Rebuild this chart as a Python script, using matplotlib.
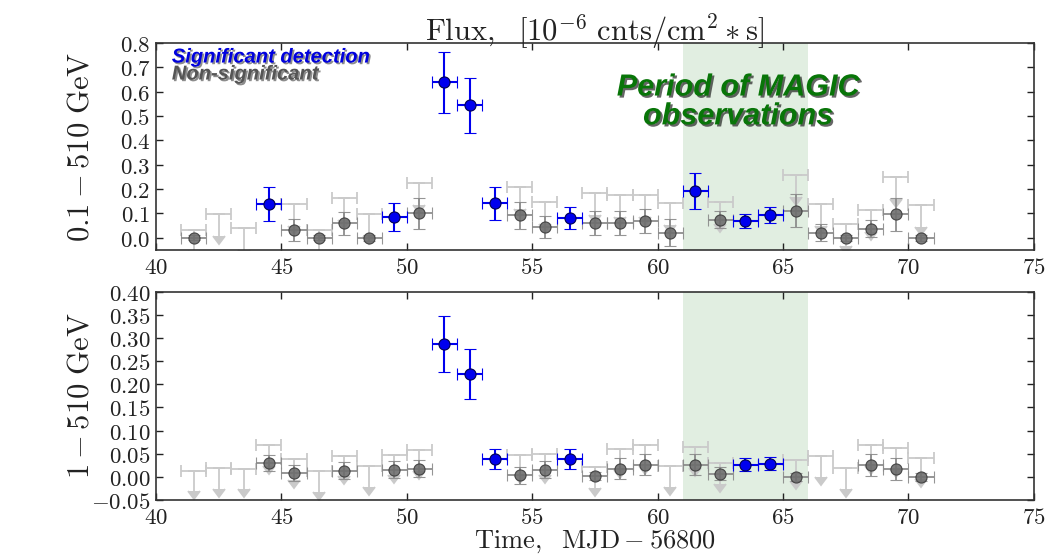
import numpy as np
import matplotlib
matplotlib.use("Agg")
import matplotlib.pyplot as plt
import matplotlib.patheffects as pe
from matplotlib.ticker import FormatStrFormatter, MultipleLocator

plt.rcParams['mathtext.fontset'] = 'cm'

# ---------------- data ----------------
time_bins = np.arange(41.5, 71.0, 1.0)   # MJD - 56800, 1-day bins
half_width = 0.5

# 'b' = significant detection, 'g' = non-significant, 'u' = upper limit only
top_kind = ['g', 'u', 'u', 'b', 'g', 'g', 'g', 'g', 'b', 'g',
            'b', 'b', 'b', 'g', 'g', 'b', 'g', 'g', 'g', 'g',
            'b', 'g', 'b', 'b', 'g', 'g', 'g', 'g', 'g', 'g']
top_flux = [0.000, np.nan, np.nan, 0.138, 0.032, 0.000, 0.059, 0.000, 0.086, 0.100,
            0.639, 0.544, 0.141, 0.092, 0.043, 0.080, 0.062, 0.062, 0.070, 0.021,
            0.193, 0.075, 0.069, 0.093, 0.111, 0.021, 0.000, 0.038, 0.096, 0.000]
top_err = [0.010, np.nan, np.nan, 0.071, 0.045, 0.010, 0.048, 0.012, 0.058, 0.063,
           0.125, 0.114, 0.066, 0.055, 0.045, 0.045, 0.050, 0.050, 0.050, 0.055,
           0.075, 0.035, 0.030, 0.033, 0.067, 0.035, 0.012, 0.035, 0.068, 0.012]
top_ul = [0.034, 0.097, 0.041, np.nan, 0.137, 0.030, 0.162, 0.097, np.nan, 0.226,
          np.nan, np.nan, np.nan, 0.209, 0.145, np.nan, 0.182, 0.175, 0.175, 0.141,
          np.nan, 0.148, np.nan, np.nan, 0.257, 0.137, 0.055, 0.114, 0.250, 0.134]

bot_kind = ['u', 'u', 'u', 'g', 'g', 'u', 'g', 'u', 'g', 'g',
            'b', 'b', 'b', 'g', 'g', 'b', 'g', 'g', 'g', 'u',
            'g', 'g', 'b', 'b', 'g', 'u', 'u', 'g', 'g', 'g']
bot_flux = [np.nan, np.nan, np.nan, 0.030, 0.0086, np.nan, 0.0135, np.nan, 0.0157, 0.0178,
            0.2875, 0.2217, 0.039, 0.003, 0.0157, 0.039, 0.0014, 0.018, 0.0264, np.nan,
            0.026, 0.007, 0.0264, 0.028, 0.000, np.nan, np.nan, 0.025, 0.017, 0.000]
bot_err = [np.nan, np.nan, np.nan, 0.018, 0.018, np.nan, 0.018, np.nan, 0.018, 0.019,
           0.060, 0.054, 0.022, 0.019, 0.019, 0.021, 0.008, 0.022, 0.023, np.nan,
           0.023, 0.014, 0.014, 0.014, 0.008, np.nan, np.nan, 0.024, 0.023, 0.008]
bot_ul = [0.0135, 0.019, 0.018, 0.068, 0.039, 0.012, 0.046, 0.023, 0.048, 0.057,
          np.nan, np.nan, np.nan, 0.048, 0.049, np.nan, 0.0207, 0.060, 0.069, 0.024,
          0.0636, 0.030, np.nan, np.nan, 0.036, 0.044, 0.019, 0.069, 0.062, 0.041]

magic_start, magic_end = 61.0, 66.0

panels = [
    dict(kind=top_kind, flux=top_flux, err=top_err, ul=top_ul,
         ylim=(-0.05, 0.8), ystep=0.1, fmt='$%.1f$', arrow=0.09,
         ylabel=r'$0.1 - 510\ \mathrm{GeV}$'),
    dict(kind=bot_kind, flux=bot_flux, err=bot_err, ul=bot_ul,
         ylim=(-0.05, 0.40), ystep=0.05, fmt='$%.2f$', arrow=0.045,
         ylabel=r'$1 - 510\ \mathrm{GeV}$'),
]

fig = plt.figure(figsize=(10.5, 5.58), dpi=100)
ax_top = fig.add_axes([0.1486, 0.552, 0.836, 0.371])
ax_bot = fig.add_axes([0.1486, 0.104, 0.836, 0.373])
axes = [ax_top, ax_bot]

blue = '#0000ee'
gray_face = '#6e6e6e'
gray_edge = '#3a3a3a'
ul_color = '#cacaca'

for ax, p in zip(axes, panels):
    kind = np.array(p['kind'])
    flux = np.array(p['flux'], dtype=float)
    err = np.array(p['err'], dtype=float)
    ul = np.array(p['ul'], dtype=float)

    ax.axvspan(magic_start, magic_end, color='#d5e8d5', alpha=0.7, lw=0, zorder=0)

    # upper limits
    m = ~np.isnan(ul)
    ax.errorbar(time_bins[m], ul[m], xerr=half_width, yerr=p['arrow'], uplims=True,
                fmt='none', color=ul_color, ecolor=ul_color, mfc=ul_color,
                mec=ul_color, ms=5, elinewidth=1.3, capsize=4,
                capthick=1.3, zorder=1)

    # non-significant
    m = kind == 'g'
    ax.errorbar(time_bins[m], flux[m], xerr=half_width, yerr=err[m], fmt='o',
                color=gray_face, mfc=gray_face, mec=gray_edge, ms=8, mew=0.8,
                ecolor='#8a8a8a', elinewidth=1.4, capsize=4, capthick=1.4,
                alpha=0.9, zorder=2)

    # significant
    m = kind == 'b'
    ax.errorbar(time_bins[m], flux[m], xerr=half_width, yerr=err[m], fmt='o',
                color=blue, mfc=blue, mec='#000050', ms=8, mew=0.8,
                ecolor=blue, elinewidth=1.5, capsize=4, capthick=1.5, zorder=3)

    ax.set_xlim(40, 75)
    ax.set_ylim(*p['ylim'])
    ax.xaxis.set_major_locator(MultipleLocator(5))
    ax.yaxis.set_major_locator(MultipleLocator(p['ystep']))
    ax.xaxis.set_major_formatter(FormatStrFormatter('$%d$'))
    ax.yaxis.set_major_formatter(FormatStrFormatter(p['fmt']))
    ax.tick_params(direction='in', top=True, right=True, length=5, width=1,
                   labelsize=16.5, pad=4, colors='#222222')
    for s in ax.spines.values():
        s.set_color('#333333')
        s.set_linewidth(1.2)
    ax.set_ylabel(p['ylabel'], fontsize=22, color='#222222')
    ax.yaxis.set_label_coords(-0.07, 0.5)

ax_top.set_title(r'$\mathrm{Flux,}\ \ [10^{-6}\ \mathrm{cnts/cm^2} * \mathrm{s}]$',
                 fontsize=22, pad=1, color='#222222')
ax_bot.set_xlabel(r'$\mathrm{Time,\ \ MJD} - 56800$', fontsize=19, color='#222222')
ax_bot.xaxis.set_label_coords(0.5, -0.135)

shadow = [pe.withSimplePatchShadow(offset=(1.2, -1.2), shadow_rgbFace='black', alpha=0.45)]
ax_top.text(0.018, 0.932, 'Significant detection', transform=ax_top.transAxes,
            fontfamily='Liberation Sans', fontweight='bold', fontstyle='italic',
            fontsize=14.5, color='#0000dd', va='center', ha='left',
            path_effects=shadow)
ax_top.text(0.018, 0.85, 'Non-significant', transform=ax_top.transAxes,
            fontfamily='Liberation Sans', fontweight='bold', fontstyle='italic',
            fontsize=14.5, color='#555555', va='center', ha='left',
            path_effects=shadow)
ax_top.text(0.663, 0.715, 'Period of MAGIC\nobservations', transform=ax_top.transAxes,
            fontfamily='Liberation Sans', fontweight='bold', fontstyle='italic',
            fontsize=22, color='#087508', va='center', ha='center',
            linespacing=0.95,
            path_effects=[pe.withSimplePatchShadow(offset=(1.5, -1.5),
                                                  shadow_rgbFace='black', alpha=0.6)])

fig.savefig('out.png', dpi=100)
